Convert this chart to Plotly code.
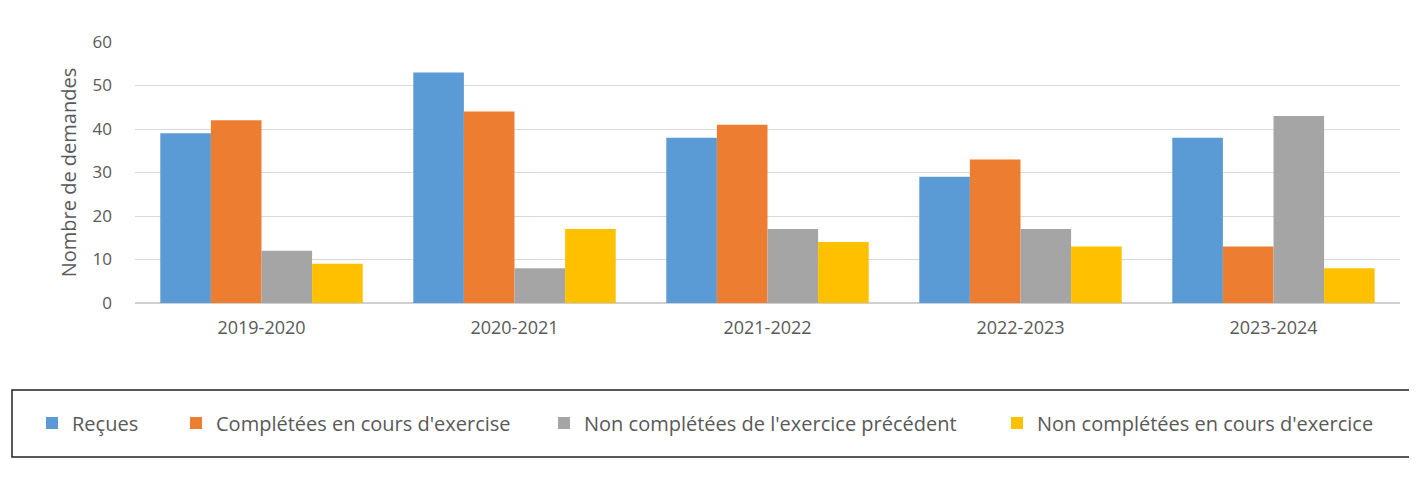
import plotly.graph_objects as go

categories = ["2019-2020", "2020-2021", "2021-2022", "2022-2023", "2023-2024"]
recues = [39, 53, 38, 29, 38]
completees = [42, 44, 41, 33, 13]
non_comp_prec = [12, 8, 17, 17, 43]
non_comp_cours = [9, 17, 14, 13, 8]

series_names = [
    "Reçues",
    "Complétées en cours d'exercise",
    "Non complétées de l'exercice précédent",
    "Non complétées en cours d'exercice",
]
series_values = [recues, completees, non_comp_prec, non_comp_cours]
colors = ["#5B9BD5", "#ED7D31", "#A5A5A5", "#FFC000"]

# page offset of the figure inside the browser window
OFF = 8
W, H = 1417, 478
left_s, right_s, top_s, bottom_s = 135, 1400, 42, 303
ml = left_s - OFF
mt = top_s - OFF
pw = right_s - left_s
ph = bottom_s - top_s
mr = W - ml - pw
mb = H - mt - ph

def px_x(p):
    return (p - left_s) / pw

def px_y(p):
    return (bottom_s - p) / ph

legend_ids = ["legend", "legend2", "legend3", "legend4"]
legend_text_start = [73, 217, 585, 1038]

fig = go.Figure()
for name, vals, col, lid in zip(series_names, series_values, colors, legend_ids):
    fig.add_trace(go.Bar(x=categories, y=vals, name=name, legend=lid,
                         marker=dict(color=col, line=dict(width=0))))

font_fam = "Open Sans, DejaVu Sans, sans-serif"
tick_col = "#595959"

legend_layout = {}
for lid, ts in zip(legend_ids, legend_text_start):
    legend_layout[lid] = dict(orientation="h", x=px_x(ts - 41), xanchor="left",
                              y=px_y(423), yanchor="middle",
                              font=dict(size=20, color=tick_col), bgcolor="rgba(0,0,0,0)",
                              borderwidth=0, itemwidth=30)

fig.update_layout(
    width=W, height=H,
    margin=dict(l=ml, r=mr, t=mt, b=mb, pad=0),
    paper_bgcolor="white", plot_bgcolor="white",
    barmode="group", bargap=0.2, bargroupgap=0,
    font=dict(family=font_fam, color=tick_col, size=17),
    xaxis=dict(showgrid=False, showline=False, ticks="", ticklabelstandoff=12,
               tickfont=dict(size=18, color=tick_col)),
    yaxis=dict(range=[0, 60], dtick=10, showgrid=True, gridcolor="#D9D9D9", gridwidth=1,
               zeroline=True, zerolinecolor="#D0D0D0", zerolinewidth=1.5,
               ticks="", ticklabelstandoff=22, tickfont=dict(size=17, color=tick_col),
               title=dict(text="Nombre de demandes", font=dict(size=20, color=tick_col), standoff=10)),
    showlegend=True,
    shapes=[dict(type="rect", xref="paper", yref="paper",
                 x0=px_x(12), x1=px_x(1416), y0=px_y(457), y1=px_y(390),
                 line=dict(color="#222222", width=1.5), fillcolor="rgba(0,0,0,0)")],
    **legend_layout,
)

fig.write_html("out.html")
